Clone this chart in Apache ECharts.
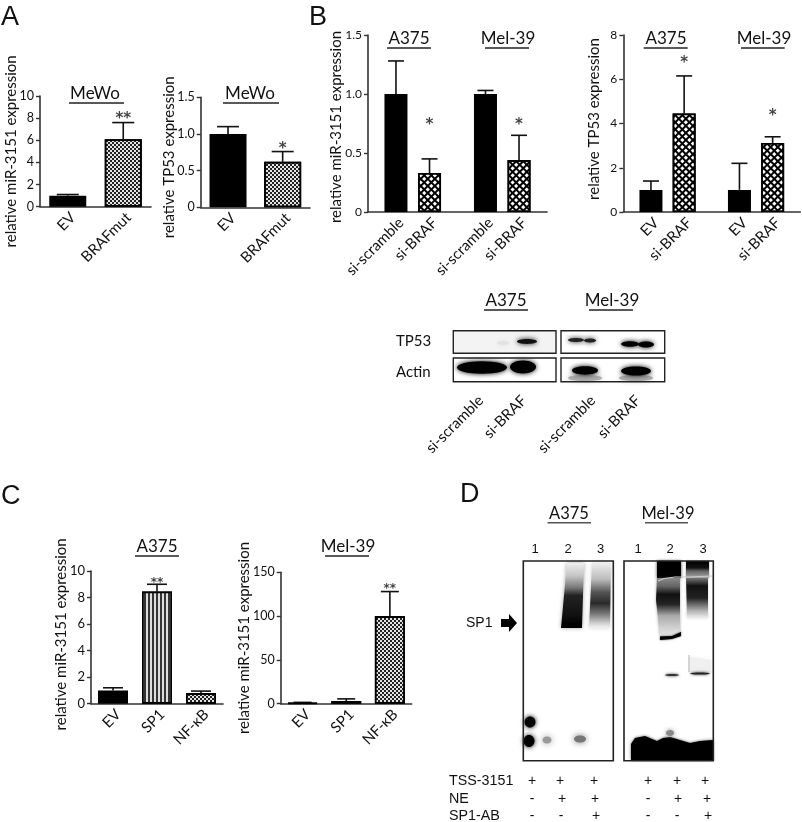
<!DOCTYPE html>
<html><head><meta charset="utf-8">
<style>html,body{margin:0;padding:0;background:#fff}#c{width:802px;height:822px}</style>
<script src="https://cdn.jsdelivr.net/npm/echarts@6/dist/echarts.min.js"></script>
</head><body><div id="c"></div>
<script>
const a1Categories=['EV','BRAFmut'], a1Values=[1.0,6.1], a1Upper=[1.1,7.6], a1Stars=['','**'], a1StarAt=[null,8.2];
const a2Categories=['EV','BRAFmut'], a2Values=[1.0,0.62], a2Upper=[1.1,0.76], a2Stars=['','*'], a2StarAt=[null,0.83];
const b1Categories=['si-scramble','si-BRAF','si-scramble','si-BRAF'], b1Values=[1.0,0.33,1.0,0.44], b1Upper=[1.28,0.45,1.03,0.65], b1Stars=['','*','','*'], b1StarAt=[null,0.76,null,0.76];
const b2Categories=['EV','si-BRAF','EV','si-BRAF'], b2Values=[1.0,4.45,1.0,3.12], b2Upper=[1.4,6.15,2.2,3.4], b2Stars=['','*','','*'], b2StarAt=[null,6.87,null,4.47];
const c1Categories=['EV','SP1','NF-\u03baB'], c1Values=[1.0,8.45,0.8], c1Upper=[1.2,9.0,0.95], c1Stars=['','**',''], c1StarAt=[null,9.32,null];
const c2Categories=['EV','SP1','NF-\u03baB'], c2Values=[1,3,100], c2Upper=[1.5,5.5,128], c2Stars=['','','**'], c2StarAt=[null,null,134];

const F='Lato, sans-serif', A='"Liberation Sans", Arial, sans-serif', INK='#111';
const solid={color:'#000'};
const check={color:'#fff',decal:{symbol:'rect',symbolSize:1,color:'#222',backgroundColor:'#e4e4e4',dashArrayX:[[2,2],[0,2,2,0]],dashArrayY:[2,0],rotation:0}};
const cross={color:'#fff',decal:{symbol:'rect',symbolSize:1,color:'#fff',backgroundColor:'#000',dashArrayX:[3,1.3],dashArrayY:[3,1.3],rotation:Math.PI/4}};
const stripe={color:'#fff',decal:{symbol:'rect',symbolSize:1,color:'#333',backgroundColor:'#ddd',dashArrayX:[1.5,1.5],dashArrayY:[4,0],rotation:0}};

const grids=[],xAxes=[],yAxes=[],series=[],titles=[];
function panel(o){
  const i=grids.length, n=o.values.length;
  const slot=o.slots||o.values.map((_,k)=>k), len=o.slots?16:n;
  const cats=Array(len).fill(''); o.cats.forEach((c,k)=>cats[slot[k]]=c);
  grids.push({left:o.l,top:o.t,width:o.w,height:o.h,containLabel:false});
  const vis=(idx,val)=>val!=='';
  xAxes.push({gridIndex:i,type:'category',data:cats,
    axisLine:{lineStyle:{color:'#333',width:1.6}},
    axisTick:{alignWithLabel:true,interval:vis,length:4,lineStyle:{color:'#333',width:1.4}},
    axisLabel:{interval:vis,rotate:45,verticalAlign:'top',color:INK,fontFamily:F,fontSize:o.xfs||15,margin:3}});
  yAxes.push({gridIndex:i,type:'value',min:0,max:o.max,interval:o.step,
    name:'relative '+o.gene+' expression',nameLocation:'middle',nameRotate:90,nameGap:o.gap,nameMoveOverlap:false,
    nameTextStyle:{color:INK,fontFamily:F,fontSize:o.nfs||15,padding:o.npad||0},
    axisLine:{show:true,lineStyle:{color:'#333',width:1.6}},
    axisTick:{show:true,length:4,lineStyle:{color:'#333',width:1.4}},
    splitLine:{show:false},
    axisLabel:{color:INK,fontFamily:F,fontSize:o.yfs||12.5,margin:6,
      formatter:v=>v===0?'0':(o.step<1?v.toFixed(1):String(v))}});
  const full=(arr,blank)=>{const a=Array(len).fill(blank);arr.forEach((v,k)=>a[slot[k]]=v);return a;};
  series.push({type:'bar',xAxisIndex:i,yAxisIndex:i,barWidth:o.bw,z:3,
    data:full(o.values.map((v,k)=>({value:v,itemStyle:Object.assign({borderColor:'#000',borderWidth:1.8},o.fills[k])})),null)});
  series.push({type:'custom',xAxisIndex:i,yAxisIndex:i,z:2,silent:true,
    encode:{x:0,y:[1,2]},
    data:o.values.map((v,k)=>[slot[k],v,o.upper[k]]),
    renderItem(p,api){
      const a=api.coord([api.value(0),api.value(1)]), b=api.coord([api.value(0),api.value(2)]);
      const st={stroke:'#111',lineWidth:1.6,fill:'none'};
      return {type:'group',children:[
        {type:'line',shape:{x1:a[0],y1:a[1],x2:b[0],y2:b[1]},style:st},
        {type:'line',shape:{x1:b[0]-o.cap,y1:b[1],x2:b[0]+o.cap,y2:b[1]},style:st}]};
    }});
  series.push({type:'scatter',xAxisIndex:i,yAxisIndex:i,symbolSize:1,silent:true,z:4,
    itemStyle:{color:'rgba(0,0,0,0)'},
    data:o.starAt.map((v,k)=>v==null?null:{value:[slot[k],v],name:o.stars[k]}).filter(Boolean),
    label:{show:true,position:'inside',formatter:d=>d.name,color:'#111',fontFamily:'"DejaVu Sans"',fontWeight:'bold',fontSize:o.sfs||15,offset:[0,3]}});
  o.heads.forEach(h=>titles.push(head(h[0],h[1],h[2],h[3])));
}
function head(text,x,y,fs){return {text,left:x,top:y,textAlign:'center',textVerticalAlign:'middle',padding:0,textStyle:{color:INK,fontFamily:F,fontWeight:'normal',fontSize:fs||17}};}

panel({l:40,t:96,w:111,h:110.7,max:10,step:2,gene:'miR-3151',gap:21,cats:a1Categories,values:a1Values,upper:a1Upper,stars:a1Stars,starAt:a1StarAt,fills:[solid,check],bw:37,cap:11,heads:[['MeWo',95,94]]});
panel({l:200.7,t:97.3,w:109.3,h:110,max:1.5,step:0.5,gene:'TP53',gap:24,npad:[0,10,0,0],cats:a2Categories,values:a2Values,upper:a2Upper,stars:a2Stars,starAt:a2StarAt,fills:[solid,check],bw:37,cap:11,heads:[['MeWo',250,94]]});
panel({l:368,t:35,w:179,h:177,max:1.5,step:0.5,gene:'miR-3151',gap:24,yfs:12,npad:[0,7,0,0],cats:b1Categories,values:b1Values,upper:b1Upper,stars:b1Stars,starAt:b1StarAt,fills:[solid,cross,solid,cross],slots:[2,5,10,13],bw:23,cap:8,heads:[['A375',409,39],['Mel-39',508,39]]});
panel({l:623.3,t:35,w:177,h:177,max:8,step:2,gene:'TP53',gap:22,yfs:12,npad:[0,0,0,9],cats:b2Categories,values:b2Values,upper:b2Upper,stars:b2Stars,starAt:b2StarAt,fills:[solid,cross,solid,cross],slots:[2,5,10,13],bw:23,cap:8,heads:[['A375',666,39],['Mel-39',764,39]]});
panel({l:91,t:571,w:132,h:132.7,max:10,step:2,gene:'miR-3151',gap:22,yfs:13,npad:[0,0,0,6],cats:c1Categories,values:c1Values,upper:c1Upper,stars:c1Stars,starAt:c1StarAt,fills:[solid,stripe,check],bw:30,cap:10,sfs:12,heads:[['A375',157,547]]});
panel({l:280.7,t:572.3,w:131,h:131.4,max:150,step:50,gene:'miR-3151',gap:29,cats:c2Categories,values:c2Values,upper:c2Upper,stars:c2Stars,starAt:c2StarAt,fills:[solid,check,check],bw:30,cap:9,sfs:12,heads:[['Mel-39',348,547]]});

// --- static annotation: rules, panel letters, blots
const g=[];
const rule=(x1,x2,y,c)=>g.push({type:'line',silent:true,shape:{x1,y1:y,x2,y2:y},style:{stroke:c||'#222',lineWidth:1.4}});
const txt=(text,x,y,font,extra)=>g.push(Object.assign({type:'text',silent:true,x,y,style:{text,font,fill:INK,textAlign:'left',textVerticalAlign:'middle'}},extra||{}));
const ctr=(text,x,y,font)=>g.push({type:'text',silent:true,x,y,style:{text,font,fill:INK,textAlign:'center',textVerticalAlign:'middle'}});
[[69,124,103],[223,279,103],[387,431,48],[485,529,48],[643.7,687.7,48],[741,784.7,48],[135,179,556],[325,369,556],[484,528,310],[589,633,310]].forEach(r=>rule(...r));
[[547.5,591,522.7],[645,688,522.7]].forEach(r=>rule(r[0],r[1],r[2],'#555'));
[['A',1,18],['B',309,18],['C',1,497],['D',460,495]].forEach(l=>txt(l[0],l[1],l[2],'27px '+A));
ctr('A375',506,301,'17px '+F); ctr('Mel-39',612,301,'17px '+F);
ctr('A375',569,514,'16.5px '+F); ctr('Mel-39',668,514,'16.5px '+F);
txt('TP53',396,341,'15px '+F); txt('Actin',396,372,'15px '+F);
[['si-scramble',481,398],['si-BRAF',524,398],['si-scramble',593,398],['si-BRAF',638,398]].forEach(t=>
  g.push({type:'text',silent:true,x:t[1],y:t[2],rotation:Math.PI/4,style:{text:t[0],font:'15px '+F,fill:INK,textAlign:'right',textVerticalAlign:'middle'}}));

const blob=(cx,cy,rx,ry,c,blur)=>g.push({type:'ellipse',silent:true,shape:{cx,cy,rx,ry},style:{fill:c||'#000',shadowBlur:blur==null?4:blur,shadowColor:c||'#000'}});
// western blot
g.push({type:'rect',silent:true,shape:{x:453.3,y:330.7,width:102.7,height:22.6},style:{fill:'#f3f3f3'}});
blob(503,343,6,2,'#e2e2e2',5); blob(527,341.5,10,2.4,'#111',5);
blob(576,340,8,2,'#222',5); blob(590,340.5,6,2,'#222',5);
blob(630,344,9,2.8,'#000',5); blob(646,344.5,8,3,'#000',5);
blob(482,367.5,25,6.2,'#000',5); blob(523,367,13,6.4,'#000',5);
blob(585,378,17,3,'#aaa',5); blob(636,378,17,3,'#aaa',5);
blob(585,370.5,13,4.2,'#000',5); blob(636,371,15,4.6,'#000',5);
[[453.3,330.7,102.7,22.6],[561,330.7,103.7,22.6],[453.3,358,102.7,23.7],[561,358,103.7,23.7]].forEach(b=>
  g.push({type:'rect',silent:true,shape:{x:b[0],y:b[1],width:b[2],height:b[3]},style:{fill:'none',stroke:'#222',lineWidth:1.4}}));

// gels
const LG=(stops)=>new echarts.graphic.LinearGradient(0,0,0,1,stops.map(s=>({offset:s[0],color:s[1]})));
const poly=(pts,fill,blur,sc)=>g.push({type:'polygon',silent:true,shape:{points:pts},style:{fill,shadowBlur:blur||0,shadowColor:sc||'rgba(90,90,90,.55)'}});
poly([[567,563],[584,563],[582,628],[561,628]],LG([[0,'#eee'],[0.2,'#c4c4c4'],[0.38,'#777'],[0.5,'#222'],[0.8,'#111'],[0.95,'#000'],[1,'#000']]),4);
poly([[592,563],[611,563],[610,628],[589,628]],LG([[0,'#eee'],[0.25,'#bbb'],[0.45,'#555'],[0.62,'#2a2a2a'],[0.78,'#777'],[0.95,'#ddd'],[1,'#f2f2f2']]),4,'rgba(170,170,170,.5)');
blob(530,722,5.5,5.5,'#000',5); blob(529,741,5.5,6,'#000',5); blob(547,740,4.5,3.5,'#999',6); blob(580,739,6,3.5,'#777',6);
// Mel-39 gel
g.push({type:'rect',silent:true,shape:{x:657,y:561,width:24,height:17},style:{fill:'#000',shadowBlur:3,shadowColor:'#333'}});
poly([[686,561],[709,561],[709,578],[686,578]],LG([[0,'#000'],[0.4,'#111'],[0.6,'#666'],[1,'#aaa']]),2);
poly([[657,578],[680,578],[680,633],[660,636],[656,600]],LG([[0,'#888'],[0.14,'#666'],[0.28,'#111'],[0.45,'#222'],[0.65,'#aaa'],[0.9,'#d8d8d8'],[1,'#e4e4e4']]),3);
poly([[686,578],[708,578],[708,618],[687,618]],LG([[0,'#777'],[0.2,'#111'],[0.5,'#222'],[0.8,'#aaa'],[1,'#eee']]),3,'rgba(170,170,170,.5)');
g.push({type:'polygon',silent:true,shape:{points:[[660,636.5],[672,636],[681,632],[681,636],[672,639],[660,640]]},style:{fill:'#000',shadowBlur:2,shadowColor:'#333'}});
g.push({type:'polyline',silent:true,shape:{points:[[658,581],[664,578.5],[675,577],[690,577],[700,576.5],[713,576]]},style:{stroke:'#ccc',lineWidth:1.2,fill:'none'}});
poly([[690,657],[711,660],[711,672],[690,672]],'#f0f0f0',3,'rgba(230,230,230,.8)');
g.push({type:'line',silent:true,shape:{x1:689,y1:655,x2:689,y2:672},style:{stroke:'#bbb',lineWidth:1.2}});
blob(672,675,7,1.1,'#333',3); blob(700,673.5,10,1.1,'#222',3);
poly([[631,744],[635,738],[645,736],[657,741],[663,738],[670,737],[680,740],[690,743],[700,741],[713,740],[713,760],[631,760]],'#000',3,'#555');
blob(670,733,4,3,'#888',4);
[[523.3,561,90,199.7],[624,561,89.3,199.7]].forEach(b=>
  g.push({type:'rect',silent:true,shape:{x:b[0],y:b[1],width:b[2],height:b[3]},style:{fill:'none',stroke:'#222',lineWidth:1.6}}));
[[535,549,'1'],[568,549,'2'],[600.7,549,'3'],[638,549,'1'],[670,549,'2'],[703,549,'3']].forEach(t=>ctr(t[2],t[0],t[1],'13px '+A));
txt('SP1',466,623,'14px '+A);
g.push({type:'polygon',silent:true,shape:{points:[[501,619],[509,619],[509,614],[517,623],[509,632],[509,627],[501,627]]},style:{fill:'#000'}});
[['TSS-3151',781],['NE',799],['SP1-AB',816]].forEach(t=>txt(t[0],449,t[1],'14.3px '+A));
const signs=[[[532,'+'],[560,'+'],[594,'+'],[648,'+'],[677,'+'],[705,'+']],
             [[532,'-'],[562,'+'],[595,'+'],[648,'-'],[678,'+'],[707,'+']],
             [[532,'-'],[561,'-'],[596,'+'],[648,'-'],[677,'-'],[708,'+']]];
[781,799,816].forEach((y,r)=>signs[r].forEach(s=>ctr(s[1],s[0],y,'14px '+A)));

const chart=echarts.init(document.getElementById('c'),null,{renderer:'canvas'});
chart.setOption({animation:false,backgroundColor:'#fff',title:titles,grid:grids,xAxis:xAxes,yAxis:yAxes,series,graphic:{elements:g}});
</script></body></html>
